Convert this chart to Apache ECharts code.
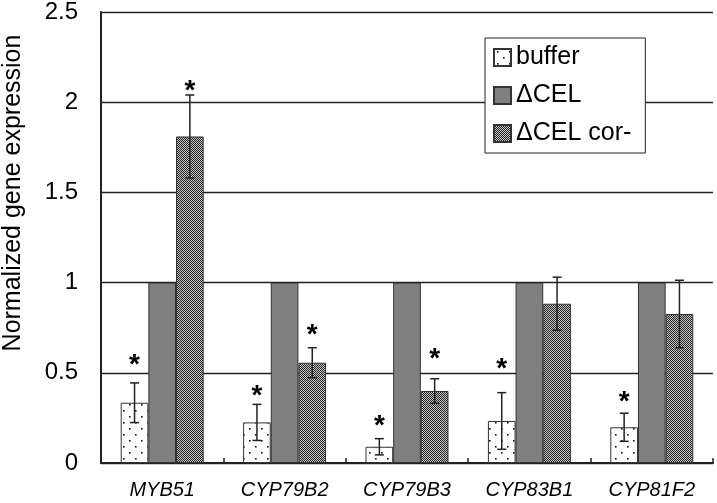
<!DOCTYPE html>
<html>
<head>
<meta charset="utf-8">
<script src="https://cdn.jsdelivr.net/npm/echarts@6/dist/echarts.min.js"></script>
<style>html,body{margin:0;padding:0;background:#fff;}#c{width:717px;height:503px;}</style>
</head>
<body>
<div id="c"></div>
<script>
const categories = ['MYB51', 'CYP79B2', 'CYP79B3', 'CYP83B1', 'CYP81F2'];
const bufferMean = [0.334, 0.225, 0.09, 0.233, 0.198];
const bufferErr = [0.11, 0.10, 0.045, 0.157, 0.078];
const celMean = [1, 1, 1, 1, 1];
const corMean = [1.81, 0.556, 0.399, 0.883, 0.826];
const corErr = [0.23, 0.083, 0.068, 0.147, 0.187];
const bufferStar = [0.576, 0.405, 0.238, 0.554, 0.371];
const corStar = [2.095, 0.743, 0.61, null, null];
const yTicks = [0, 0.5, 1, 1.5, 2, 2.5];

const FONT = '"Liberation Sans", Arial, sans-serif';
const BAR_FRAC = 0.226;

function makeDots() {
  const c = document.createElement('canvas');
  c.width = 12; c.height = 12;
  const g = c.getContext('2d');
  g.fillStyle = '#fff'; g.fillRect(0, 0, 12, 12);
  g.fillStyle = '#111';
  g.fillRect(3, 2, 1.6, 1.6);
  g.fillRect(9, 8, 1.6, 1.6);
  return c;
}
function makeChecker() {
  const c = document.createElement('canvas');
  c.width = 2; c.height = 2;
  const g = c.getContext('2d');
  g.fillStyle = '#c8c8c8'; g.fillRect(0, 0, 2, 2);
  g.fillStyle = '#222';
  g.fillRect(0, 0, 1, 1);
  g.fillRect(1, 1, 1, 1);
  return c;
}
const dotPattern = { image: makeDots(), repeat: 'repeat' };
const checkPattern = { image: makeChecker(), repeat: 'repeat' };

function errRender(offsetIdx) {
  return function (params, api) {
    const x = api.value(0);
    const lo = api.coord([x, api.value(1)]);
    const hi = api.coord([x, api.value(2)]);
    const band = api.size([1, 0])[0];
    const bw = band * BAR_FRAC;
    const cx = lo[0] + offsetIdx * bw;
    const cap = 4.5;
    const st = { stroke: '#222', lineWidth: 1.5 };
    return {
      type: 'group', children: [
        { type: 'line', shape: { x1: cx, y1: lo[1], x2: cx, y2: hi[1] }, style: st },
        { type: 'line', shape: { x1: cx - cap, y1: hi[1], x2: cx + cap, y2: hi[1] }, style: st },
        { type: 'line', shape: { x1: cx - cap, y1: lo[1], x2: cx + cap, y2: lo[1] }, style: st }
      ]
    };
  };
}
function starRender(offsetIdx) {
  return function (params, api) {
    const v = api.value(1);
    if (v == null || isNaN(v)) return null;
    const p = api.coord([api.value(0), v]);
    const band = api.size([1, 0])[0];
    const bw = band * BAR_FRAC;
    return {
      type: 'text',
      x: p[0] + offsetIdx * bw, y: p[1] + 6,
      style: { text: '*', font: 'bold 28px ' + FONT, fill: '#000', textAlign: 'center', textVerticalAlign: 'middle' }
    };
  };
}

const chart = echarts.init(document.getElementById('c'), null, { renderer: 'canvas' });
const barStyleBase = { borderColor: '#333', borderWidth: 1 };
chart.setOption({
  animation: false,
  backgroundColor: '#fff',
  grid: { left: 101, right: 4, top: 12, bottom: 40, containLabel: false },
  legend: {
    orient: 'vertical', left: 485, top: 38,
    backgroundColor: '#fff', borderColor: '#222', borderWidth: 1,
    padding: [7, 14, 7, 8],
    itemWidth: 17, itemHeight: 17, itemGap: 13,
    icon: 'rect',
    textStyle: { fontFamily: FONT, fontSize: 25, color: '#000' },
    data: ['buffer', '\u0394CEL', '\u0394CEL cor-']
  },
  xAxis: {
    type: 'category', data: categories,
    axisLine: { lineStyle: { color: '#222', width: 2 } },
    axisTick: { show: true, inside: true, length: 5, lineStyle: { color: '#222', width: 1.5 } },
    axisLabel: { fontFamily: FONT, fontSize: 20, fontStyle: 'italic', color: '#000', margin: 17 },
    splitLine: { show: false }
  },
  yAxis: {
    type: 'value', min: 0, max: 2.5, interval: 0.5,
    axisLine: { show: true, lineStyle: { color: '#222', width: 2 } },
    axisTick: { show: true, inside: true, length: 8, lineStyle: { color: '#222' } },
    axisLabel: { fontFamily: FONT, fontSize: 24, color: '#000', margin: 23,
      formatter: function (v) { return yTicks.indexOf(v) >= 0 ? String(v) : ''; } },
    splitLine: { show: true, lineStyle: { color: '#222', width: 1.3 } }
  },
  graphic: [{
    type: 'text', x: 13, y: 193, rotation: Math.PI / 2,
    style: { text: 'Normalized gene expression', font: '25px ' + FONT, fill: '#000', textAlign: 'center', textVerticalAlign: 'middle' }
  }],
  series: [
    { name: 'buffer', type: 'bar', data: bufferMean, barWidth: (BAR_FRAC * 100) + '%', barGap: '0%',
      itemStyle: Object.assign({ color: dotPattern }, barStyleBase) },
    { name: '\u0394CEL', type: 'bar', data: celMean, barWidth: (BAR_FRAC * 100) + '%', barGap: '0%',
      itemStyle: Object.assign({ color: '#808080' }, barStyleBase) },
    { name: '\u0394CEL cor-', type: 'bar', data: corMean, barWidth: (BAR_FRAC * 100) + '%', barGap: '0%',
      itemStyle: Object.assign({ color: checkPattern }, barStyleBase) },
    { type: 'custom', renderItem: errRender(-1), z: 5,
      data: bufferMean.map((m, i) => [i, m - bufferErr[i], m + bufferErr[i]]) },
    { type: 'custom', renderItem: errRender(1), z: 5,
      data: corMean.map((m, i) => [i, m - corErr[i], m + corErr[i]]) },
    { type: 'custom', renderItem: starRender(-1), z: 6,
      data: bufferStar.map((v, i) => [i, v]) },
    { type: 'custom', renderItem: starRender(1), z: 6,
      data: corStar.map((v, i) => [i, v == null ? NaN : v]) }
  ]
});
</script>
</body>
</html>
